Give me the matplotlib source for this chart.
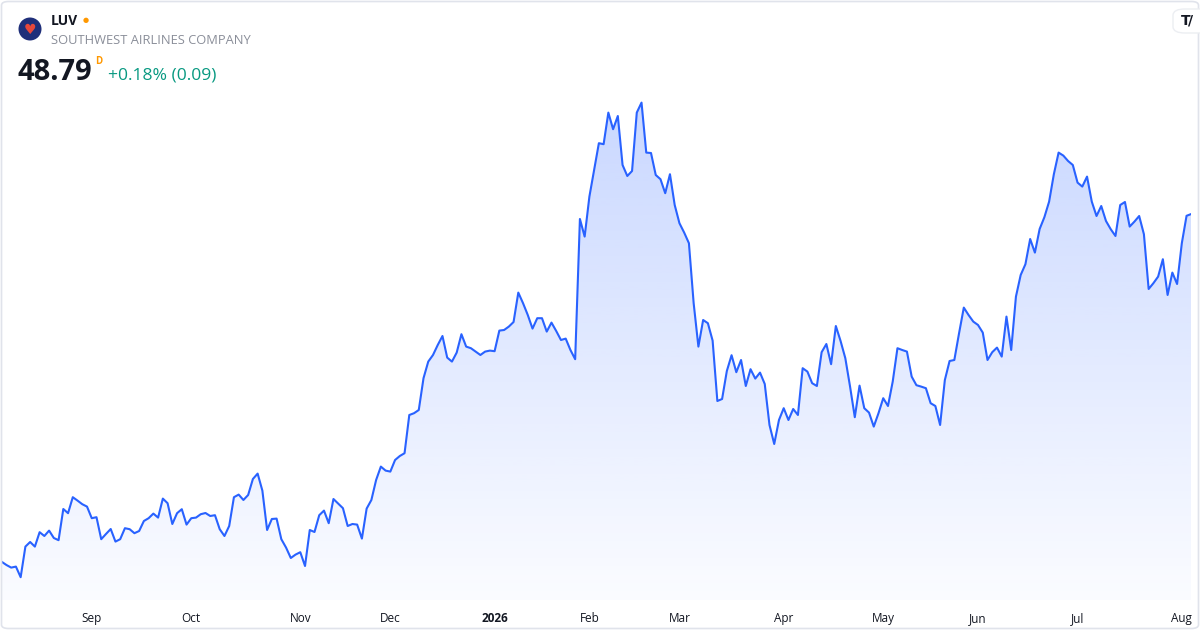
import numpy as np
import pandas as pd
import matplotlib
matplotlib.use("Agg")
import matplotlib.pyplot as plt
from matplotlib.patches import Polygon, Circle, FancyBboxPatch

plt.rcParams['font.family'] = ['Open Sans', 'DejaVu Sans']

ticker = "LUV"
company = "SOUTHWEST AIRLINES COMPANY"
last_price = "48.79"
change_text = "+0.18% (0.09)"

# US market holidays between the first and last session
holidays = ["2025-09-01", "2025-11-27", "2025-12-25", "2026-01-01", "2026-01-19",
            "2026-02-16", "2026-04-03", "2026-05-25", "2026-06-19", "2026-07-03"]

# daily closes
closes = [
    31.40, 31.24, 31.11, 31.16, 30.63, 32.16, 32.39, 32.16, 32.88, 32.69,
    32.96, 32.59, 32.48, 34.04, 33.83, 34.63, 34.46, 34.28, 34.16, 33.58,
    33.63, 32.53, 32.79, 33.04, 32.41, 32.53, 33.08, 33.03, 32.83, 32.94,
    33.44, 33.58, 33.81, 33.61, 34.56, 34.33, 33.29, 33.83, 34.03, 33.26,
    33.58, 33.61, 33.78,
    33.84, 33.69, 33.73, 33.03, 32.69, 33.19, 34.63, 34.76, 34.49, 34.74,
    35.54, 35.81, 34.96, 32.99, 33.54, 33.56, 32.53, 32.11, 31.59, 31.76,
    31.88, 31.19, 32.99, 32.89, 33.73, 33.96, 33.33, 34.54, 34.31, 34.08,
    33.19, 33.29, 33.26, 32.56, 34.06, 34.49, 35.49, 36.16, 35.96, 35.91,
    36.49, 36.69, 36.83, 38.74, 38.83, 38.99, 40.58, 41.41, 41.74, 42.24,
    42.69, 41.61, 41.41, 41.86, 42.78, 42.16, 42.08, 41.91, 41.74, 41.91,
    41.96, 41.93, 42.96, 42.99, 43.16, 43.39, 44.86, 44.33, 43.74, 43.06,
    43.58, 43.58, 42.91, 43.36, 42.94, 42.49, 42.56, 41.99, 41.53,
    48.54, 47.66, 49.66, 50.99, 52.33, 52.28, 53.86, 53.03, 53.69, 51.24,
    50.69, 50.94, 53.86, 54.36, 51.86, 51.84, 50.74, 50.53, 49.83, 50.78,
    49.24, 48.33, 47.86, 47.33, 44.33, 42.16, 43.49, 43.33, 42.46, 39.44,
    39.54, 40.94, 41.73, 40.88, 41.49, 40.19, 41.03, 40.56, 40.86, 40.29,
    38.24, 37.29, 38.49, 39.08, 38.49, 39.04, 38.74, 41.08, 40.91, 40.33,
    40.19, 41.88, 42.29, 41.28, 43.19, 42.44, 41.58, 40.16, 38.63, 40.21,
    39.08, 38.86, 38.16, 38.83, 39.58, 39.19, 40.41, 42.08, 41.99, 41.91,
    40.66, 40.23, 40.16, 40.08, 39.33, 39.19, 38.24,
    40.49, 41.44, 41.49, 42.83, 44.11, 43.74, 43.41, 43.24, 42.86, 41.49,
    41.88, 42.11, 41.66, 43.66, 41.99, 44.66, 45.74, 46.28, 47.54, 46.86,
    48.04, 48.63, 49.41, 50.78, 51.86, 51.71, 51.44, 51.24, 50.36, 50.16,
    50.66, 49.41, 48.69, 49.19, 48.44, 48.03, 47.69, 49.24, 49.39, 48.16,
    48.41, 48.69, 47.78, 45.04, 45.33, 45.66, 46.53, 44.74, 45.86, 45.29,
    47.33, 48.70, 48.79,
]

dates = pd.bdate_range("2025-08-05", "2026-08-05")
dates = dates[~dates.isin(pd.to_datetime(holidays))]
assert len(dates) == len(closes)

x = np.arange(len(closes))
y = np.array(closes)

# month starts for the axis labels
tick_pos = []
tick_lab = []
for i in range(1, len(dates)):
    if dates[i].month != dates[i - 1].month:
        tick_pos.append(i)
        tick_lab.append("2026" if dates[i].month == 1 else dates[i].strftime("%b"))

fig = plt.figure(figsize=(12, 6.3), dpi=100)
ax = fig.add_axes([1.7 / 1200, 30 / 630, (1191.3 - 1.7) / 1200, 600 / 630])
ymin, ymax = 29.49, 59.49
ax.set_xlim(0, len(x) - 1)
ax.set_ylim(ymin, ymax)

line_col = '#2962FF'
# gradient under the line
grad = np.zeros((256, 1, 4))
grad[:, 0, 0] = 41 / 255
grad[:, 0, 1] = 98 / 255
grad[:, 0, 2] = 1.0
grad[:, 0, 3] = np.linspace(0.02, 0.30, 256)
im = ax.imshow(grad, extent=[0, len(x) - 1, ymin, ymax], aspect='auto',
               origin='lower', zorder=1, interpolation='bilinear')
verts = list(zip(x, y)) + [(x[-1], ymin), (x[0], ymin)]
clip = Polygon(verts, closed=True, facecolor='none', edgecolor='none', transform=ax.transData)
ax.add_patch(clip)
im.set_clip_path(clip)

ax.plot(x, y, color=line_col, lw=1.5, zorder=3, solid_joinstyle='round')

ax.set_xticks(tick_pos)
ax.set_xticklabels(tick_lab)
for lab in ax.get_xticklabels():
    lab.set_fontsize(8.5)
    lab.set_color('#131722')
    if lab.get_text() == "2026":
        lab.set_fontweight('bold')
ax.tick_params(axis='x', length=0, pad=8.5)
ax.set_yticks([])
for s in ax.spines.values():
    s.set_visible(False)
ax.patch.set_alpha(0)

# card border
fig.patches.append(FancyBboxPatch((1.5 / 1200, 1.5 / 630), 1197 / 1200, 627 / 630,
                                  boxstyle="round,pad=0,rounding_size=0.006",
                                  transform=fig.transFigure, facecolor='none',
                                  edgecolor='#e0e3eb', lw=1.2, zorder=0))

# header
def fx(px):
    return px / 1200

def fy(py):
    return 1 - py / 630

logo = Circle((30, 630 - 29), 11.5, transform=None, facecolor='#1f2f7a', edgecolor='none')
fig.patches.append(logo)
fig.text(fx(30), fy(30), "\u2665", color='#e8483b', fontsize=10, ha='center', va='center',
         family=['DejaVu Sans'])
fig.text(fx(51), fy(21), ticker, fontsize=10, fontweight='bold', color='#131722', va='center')
fig.text(fx(86), fy(20), "\u25cf", fontsize=5, color='#ff9800', va='center', ha='center',
         family=['DejaVu Sans'])
fig.text(fx(51), fy(41), company, fontsize=9.3, color='#8a8e99', va='center')
fig.text(fx(18), fy(73), last_price, fontsize=21, fontweight='bold', color='#131722', va='center')
fig.text(fx(95.5), fy(61), "D", fontsize=7, fontweight='bold', color='#ff9800', va='center')
fig.text(fx(108), fy(75), change_text, fontsize=12.6, color='#089981', va='center')

# TradingView badge in the corner
fig.patches.append(FancyBboxPatch((fx(1173), fy(33)), 40 / 1200, 24 / 630,
                                  boxstyle="round,pad=0,rounding_size=0.01",
                                  transform=fig.transFigure, facecolor='white',
                                  edgecolor='#eceef2', lw=1, zorder=5))
fig.text(fx(1186), fy(21), "T", fontsize=10, fontweight='bold', color='#131722',
         ha='center', va='center', zorder=6, family=['DejaVu Sans'])
fig.text(fx(1191), fy(21), "/", fontsize=10, fontweight='bold', color='#131722',
         ha='center', va='center', zorder=6, family=['DejaVu Sans'])

fig.savefig("out.png", dpi=100)
